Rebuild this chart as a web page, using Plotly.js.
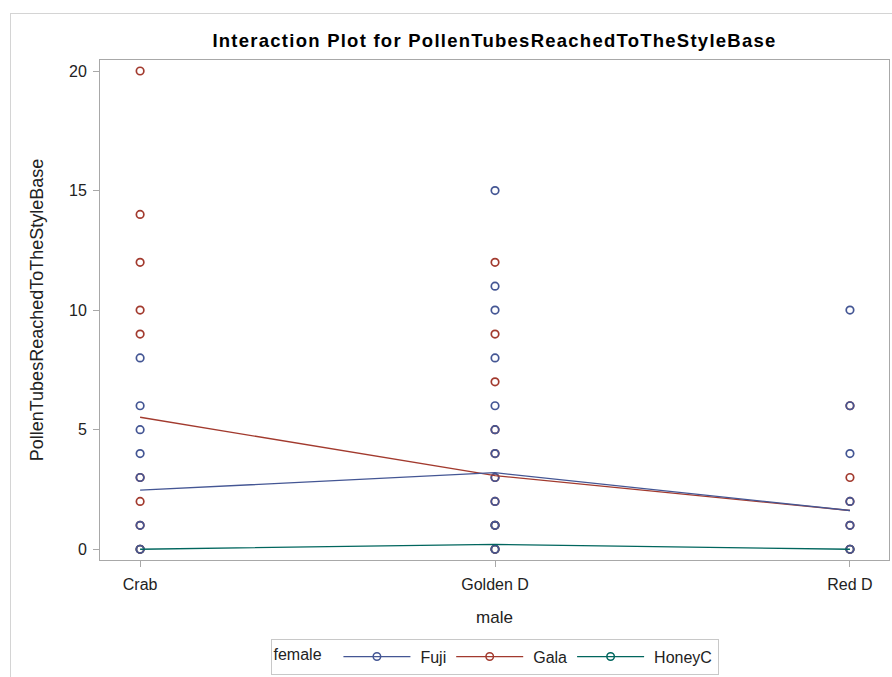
<!DOCTYPE html>
<html>
<head>
<meta charset="utf-8">
<script src="https://cdn.plot.ly/plotly-3.0.1.min.js"></script>
<style>
  html, body { margin: 0; padding: 0; background: #ffffff; }
  #frame { position: absolute; left: 10px; top: 13px; width: 900px; height: 700px;
           border-left: 1px solid #d4d4d4; border-top: 1px solid #d4d4d4; }
  #chart { position: absolute; left: 0; top: 0; width: 892px; height: 677px; }
  .gtitle { letter-spacing: 1.25px; }
</style>
</head>
<body>
<div id="frame"></div>
<div id="chart"></div>
<script>
// ---- data ----
const categories = ['Crab', 'Golden D', 'Red D'];
const seriesNames = ['Fuji', 'Gala', 'HoneyC'];

// observed values per male category
const fujiCrab = [8, 6, 5, 4, 3, 1, 0];
const fujiGolden = [15, 11, 10, 8, 6, 5, 4, 3, 2, 1, 0];
const fujiRed = [10, 6, 4, 2, 1, 0];

const galaCrab = [20, 14, 12, 10, 9, 3, 2, 1, 0];
const galaGolden = [12, 9, 7, 5, 4, 3, 2, 1, 0];
const galaRed = [6, 3, 2, 1, 0];

const honeyCrab = [0];
const honeyGolden = [1, 0];
const honeyRed = [0];

// means (interaction lines)
const fujiMean = [2.47, 3.2, 1.62];
const galaMean = [5.52, 3.08, 1.62];
const honeyMean = [0, 0.2, 0];

const yTicks = [0, 5, 10, 15, 20];

// ---- styles ----
const colors = { Fuji: '#445694', Gala: '#A23A2E', HoneyC: '#01665E' };
const FONT = 'Liberation Sans, Arial, sans-serif';

function pts(lists) {
  const x = [], y = [];
  lists.forEach((vals, i) => vals.forEach(v => { x.push(categories[i]); y.push(v); }));
  return { x, y };
}

const pointSets = {
  HoneyC: pts([honeyCrab, honeyGolden, honeyRed]),
  Gala: pts([galaCrab, galaGolden, galaRed]),
  Fuji: pts([fujiCrab, fujiGolden, fujiRed])
};
const means = { Fuji: fujiMean, Gala: galaMean, HoneyC: honeyMean };

const traces = [];
['HoneyC', 'Gala', 'Fuji'].forEach(name => {
  traces.push({
    type: 'scatter', mode: 'markers', x: pointSets[name].x, y: pointSets[name].y,
    showlegend: false, hoverinfo: 'x+y',
    marker: { symbol: 'circle-open', size: 7.5, color: colors[name], line: { width: 1.7, color: colors[name] } }
  });
});
['HoneyC', 'Gala', 'Fuji'].forEach(name => {
  traces.push({
    type: 'scatter', mode: 'lines', x: categories, y: means[name],
    showlegend: false, line: { color: colors[name], width: 1.3 }
  });
});
// legend entries (line + marker)
seriesNames.forEach(name => {
  traces.push({
    type: 'scatter', mode: 'lines+markers', x: [null], y: [null], name: name,
    line: { color: colors[name], width: 1.3 },
    marker: { symbol: 'circle-open', size: 7.5, color: colors[name], line: { width: 1.5, color: colors[name] } }
  });
});

const axisCommon = {
  showgrid: false, zeroline: false, showline: true, mirror: true,
  linecolor: '#a8a8a8', linewidth: 1,
  ticks: 'outside', ticklen: 6, tickcolor: '#a8a8a8', tickwidth: 1,
  tickfont: { family: FONT, size: 16, color: '#222222' }
};

const layout = {
  width: 892, height: 677,
  paper_bgcolor: 'rgba(0,0,0,0)', plot_bgcolor: '#ffffff',
  margin: { l: 100, r: 3, t: 60, b: 116 },
  title: {
    text: 'Interaction Plot for PollenTubesReachedToTheStyleBase',
    font: { family: FONT, size: 18.5, color: '#000000', weight: 'bold' },
    x: 0.5, xanchor: 'center', xref: 'paper', y: 0.94, yanchor: 'middle'
  },
  xaxis: Object.assign({}, axisCommon, {
    type: 'category', categoryorder: 'array', categoryarray: categories,
    range: [-0.113, 2.11], ticklabelstandoff: 4,
    title: { text: 'male', font: { family: FONT, size: 17, color: '#222222' }, standoff: 18 }
  }),
  yaxis: Object.assign({}, axisCommon, {
    range: [-0.45, 20.46], tickmode: 'array', tickvals: yTicks, ticktext: yTicks.map(String),
    ticklabelstandoff: 3,
    title: { text: 'PollenTubesReachedToTheStyleBase', font: { family: FONT, size: 18, color: '#222222' }, standoff: 20 }
  }),
  legend: {
    orientation: 'h', x: 0.5, xanchor: 'center', y: -0.155, yanchor: 'top',
    bordercolor: '#c8c8c8', borderwidth: 1, bgcolor: '#ffffff',
    font: { family: FONT, size: 16, color: '#222222' },
    title: { text: 'female  ', side: 'left', font: { family: FONT, size: 16, color: '#222222' } },
    itemwidth: 72, traceorder: 'normal'
  },
  showlegend: true
};

Plotly.newPlot('chart', traces, layout, { displayModeBar: false, staticPlot: true }).then(() => {
  // lengthen the legend symbol line to match the reference style
  document.querySelectorAll('#chart .legend .legendlines path').forEach(p => p.setAttribute('d', 'M5,0h67'));
  document.querySelectorAll('#chart .legend .legendpoints path.scatterpts').forEach(p => p.setAttribute('transform', 'translate(38.5,0)'));
});
</script>
</body>
</html>
